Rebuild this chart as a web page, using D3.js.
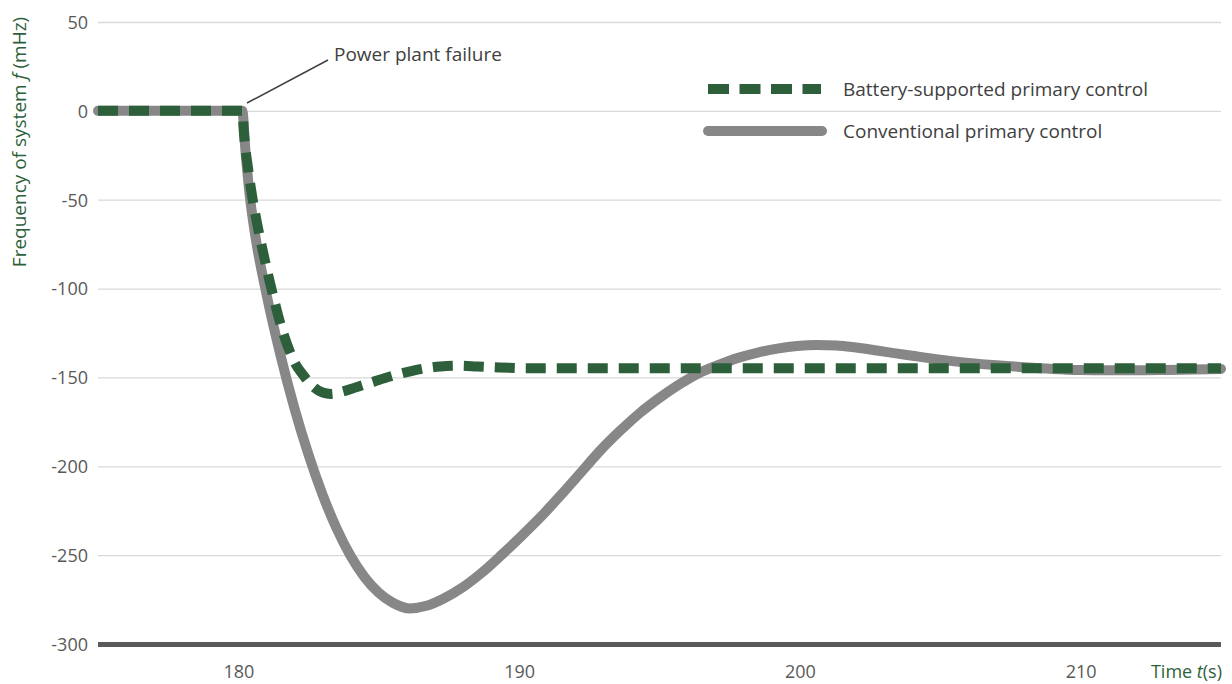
<!DOCTYPE html>
<html><head><meta charset="utf-8">
<script src="https://cdn.jsdelivr.net/npm/d3@7"></script>
<style>
body{margin:0;background:#fff}
svg{display:block}
text{font-family:"Open Sans",Lato,sans-serif}
</style>
</head><body>
<svg id="c" width="1232" height="684"></svg>
<script>
const yTicks = [50, 0, -50, -100, -150, -200, -250, -300];
const xTicks = [180, 190, 200, 210];
const seriesNames = ["Battery-supported primary control", "Conventional primary control"];
const annotationText = "Power plant failure";

const convTime = [175, 180.14, 180.25, 180.4, 180.6, 181.0, 181.5, 182.0, 182.5, 183.0, 183.5, 184.0, 184.5, 185.0, 185.5, 186.1, 186.7, 187.3, 188.0, 188.7, 189.4, 190.1, 190.8, 191.5, 192.2, 192.9, 193.6, 194.3, 195.0, 195.7, 196.4, 197.1, 197.8, 198.5, 199.2, 199.9, 200.6, 201.3, 202.0, 203.0, 204.0, 205.0, 206.0, 207.0, 208.0, 209.0, 210.0, 211.0, 212.0, 213.0, 214.0, 215.0];
const convFreq = [0, 0, -22, -47, -70, -103, -137.5, -167.5, -193.5, -216, -235, -250.5, -262.5, -271.2, -276.8, -280, -278.5, -274.5, -268, -259.5, -249.5, -239, -228, -216, -203.5, -191, -180, -170, -161.5, -154, -147.6, -143, -139, -136, -133.8, -132.3, -131.7, -132, -133.2, -135.5, -137.8, -140, -141.8, -143.2, -144.3, -145.2, -145.8, -146, -146, -145.8, -145.5, -145.2];

const battTime = [175, 180.14, 180.2, 180.35, 180.5, 180.7, 180.9, 181.1, 181.3, 181.5, 181.75, 182.0, 182.3, 182.65, 183.0, 183.3, 183.7, 184.2, 184.8, 185.4, 186.0, 186.6, 187.2, 187.8, 188.5, 189.3, 190.5, 215];
const battFreq = [0, 0, -13, -33, -49, -66, -81, -95, -108, -120, -132, -141.5, -148.5, -155, -158.5, -159.3, -158, -155.5, -152.5, -149.5, -147, -145, -143.8, -143.4, -143.8, -144.4, -144.8, -144.8];

const GREEN = "#2d5f3b", GRAY = "#878787", TXT = "#595959";
const FS = "19px";
const svg = d3.select("#c");
const x = d3.scaleLinear().domain([175, 215]).range([98, 1221]);
const y = d3.scaleLinear().domain([-300, 50]).range([644, 22]);
const fmt = d => String(d);

// y grid + labels
const yAx = svg.append("g").attr("transform", `translate(${x.range()[0]},0)`)
  .call(d3.axisLeft(y).tickValues(yTicks).tickSize(-(x.range()[1] - x.range()[0])).tickPadding(10).tickFormat(fmt));
yAx.select(".domain").remove();
yAx.selectAll(".tick line").attr("stroke", "#d9d9d9").attr("stroke-width", 1.3);
yAx.selectAll(".tick").filter(d => d === -300).select("line").attr("stroke", "#5a5a5a").attr("stroke-width", 5);
yAx.selectAll(".tick text").attr("fill", TXT).style("font-size", "18px").attr("dy", "0.35em");

// x labels
const xAx = svg.append("g").attr("transform", `translate(0,${y(-300)})`)
  .call(d3.axisBottom(x).tickValues(xTicks).tickSize(0).tickFormat(fmt));
xAx.select(".domain").remove();
xAx.selectAll(".tick text").attr("fill", TXT).style("font-size", "18px").attr("y", 28).attr("dy", "0.35em");

// lines
const line = d3.line().x(d => x(d[0])).y(d => y(d[1])).curve(d3.curveMonotoneX);
svg.append("path").datum(d3.zip(convTime, convFreq)).attr("d", line)
  .attr("fill", "none").attr("stroke", GRAY).attr("stroke-width", 10)
  .attr("stroke-linecap", "round").attr("stroke-linejoin", "round");
svg.append("path").datum(d3.zip(battTime, battFreq)).attr("d", line)
  .attr("fill", "none").attr("stroke", GREEN).attr("stroke-width", 10)
  .attr("stroke-dasharray", "20 11").attr("stroke-linejoin", "round");

// annotation
svg.append("line").attr("x1", 247).attr("y1", 103).attr("x2", 328).attr("y2", 60)
  .attr("stroke", "#404040").attr("stroke-width", 1.5);
svg.append("text").attr("x", 334).attr("y", 54).attr("dy", "0.35em")
  .attr("fill", "#404040").style("font-size", FS).text(annotationText);

// legend
const lg = svg.append("g");
lg.append("line").attr("x1", 708).attr("x2", 821).attr("y1", 89).attr("y2", 89)
  .attr("stroke", GREEN).attr("stroke-width", 10).attr("stroke-dasharray", "21 10.5");
lg.append("text").attr("x", 843).attr("y", 89).attr("dy", "0.35em").attr("fill", "#404040")
  .style("font-size", FS).text(seriesNames[0]);
lg.append("line").attr("x1", 708).attr("x2", 822).attr("y1", 131).attr("y2", 131)
  .attr("stroke", GRAY).attr("stroke-width", 10).attr("stroke-linecap", "round");
lg.append("text").attr("x", 843).attr("y", 131).attr("dy", "0.35em").attr("fill", "#404040")
  .style("font-size", FS).text(seriesNames[1]);

// axis titles
const yt = svg.append("text").attr("transform", "translate(19,142) rotate(-90)")
  .attr("text-anchor", "middle").attr("dy", "0.35em").attr("fill", GREEN).style("font-size", FS);
yt.append("tspan").text("Frequency of system ");
yt.append("tspan").style("font-style", "italic").text("f");
yt.append("tspan").text(" (mHz)");

const xt = svg.append("text").attr("x", 1222).attr("y", 672).attr("dy", "0.35em")
  .attr("text-anchor", "end").attr("fill", GREEN).style("font-size", "18px");
xt.append("tspan").text("Time ");
xt.append("tspan").style("font-style", "italic").text("t");
xt.append("tspan").text("(s)");
</script>
</body></html>
